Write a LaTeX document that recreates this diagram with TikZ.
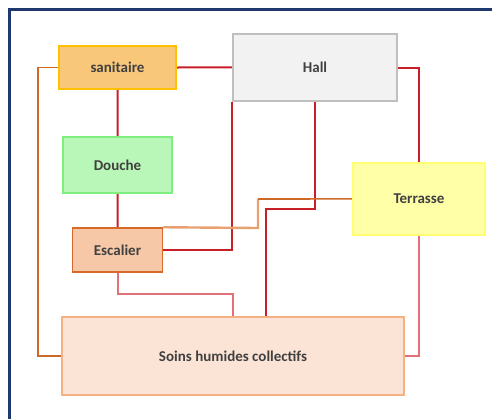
\documentclass[tikz,border=0pt]{standalone}
\usepackage{fontspec}
\setmainfont{Carlito}
\usepackage{tikz}
\usetikzlibrary{positioning,calc,backgrounds}
\definecolor{FrameNavy}{RGB}{31,56,112}
\definecolor{LinkRed}{RGB}{200,30,40}
\definecolor{LinkPink}{RGB}{226,112,118}
\definecolor{LinkOrange}{RGB}{205,105,40}
\definecolor{LinkPeach}{RGB}{232,160,112}
\definecolor{TextGray}{RGB}{64,64,64}
\tikzset{
  room/.style  = {draw, line width=1.5pt, align=center, text=TextGray,
                  font=\fontsize{15}{17}\selectfont\bfseries},
  lnk/.style   = {draw=LinkRed, line width=2pt},
  lnkp/.style  = {draw=LinkPink, line width=2pt},
  lnko/.style  = {draw=LinkOrange, line width=1.6pt},
  lnkc/.style  = {draw=LinkPeach, line width=2.4pt}
}
\begin{document}
\begin{tikzpicture}[x=1pt, y=-1pt]
\useasboundingbox (0,0) rectangle (492,418);

% cadre
\draw[FrameNavy, line width=3pt] (9,430) -- (9,9) -- (500,9);

% pieces
\node[room, fill={rgb,255:red,248;green,199;blue,122}, draw={rgb,255:red,255;green,192;blue,0},
      minimum width=117pt, minimum height=43pt] (sanitaire) at (117.5,67.5) {sanitaire};
\node[room, fill={rgb,255:red,242;green,242;blue,242}, draw={rgb,255:red,191;green,191;blue,191},
      minimum width=164pt, minimum height=67pt] (hall) at (315,67.5) {Hall};
\node[room, fill={rgb,255:red,185;green,247;blue,185}, draw={rgb,255:red,126;green,238;blue,126},
      minimum width=109pt, minimum height=56pt] (douche) at (117.5,165) {Douche};
\node[room, fill={rgb,255:red,246;green,200;blue,168}, draw={rgb,255:red,215;green,105;blue,42},
      minimum width=90pt, minimum height=44pt] (escalier) at (117.5,250) {Escalier};
\node[room, fill={rgb,255:red,255;green,255;blue,168}, draw={rgb,255:red,255;green,255;blue,112},
      minimum width=132pt, minimum height=72pt] (terrasse) at (419,199) {Terrasse};
\node[room, fill={rgb,255:red,251;green,228;blue,213}, draw={rgb,255:red,244;green,177;blue,131},
      minimum width=342pt, minimum height=78pt] (soins) at (233,356) {Soins humides collectifs};

% liaisons
\coordinate (k1) at (266,209);
\coordinate (k2) at (258,228);
\coordinate (k3) at (233,294);
\begin{scope}[on background layer]
\draw[lnko] (sanitaire.west) -- ++(-20,0) |- (soins.west);
\draw[lnk] (sanitaire.east) -- ([yshift=0.1pt]hall.west);
\draw[lnk] (sanitaire.south) -- ([xshift=0.1pt]douche.north);
\draw[lnk] (douche.south) -- ([xshift=0.1pt]escalier.north);
\draw[lnk] (hall.south west) |- (escalier.east);
\draw[lnk] (hall.south) |- (k1) -- (k1 |- soins.north);
\draw[lnk] (hall.east) -| (terrasse.north);
\draw[lnkp] (terrasse.south) |- (soins.east);
\draw[lnkc] (escalier.north east) -- (k2) -- (k2 |- terrasse.west);
\draw[lnko] (k2 |- terrasse.west) -- ([yshift=0.1pt]terrasse.west);
\draw[lnkp] (escalier.south) |- (k3) -- (k3 |- soins.north);
\end{scope}
\end{tikzpicture}
\end{document}
